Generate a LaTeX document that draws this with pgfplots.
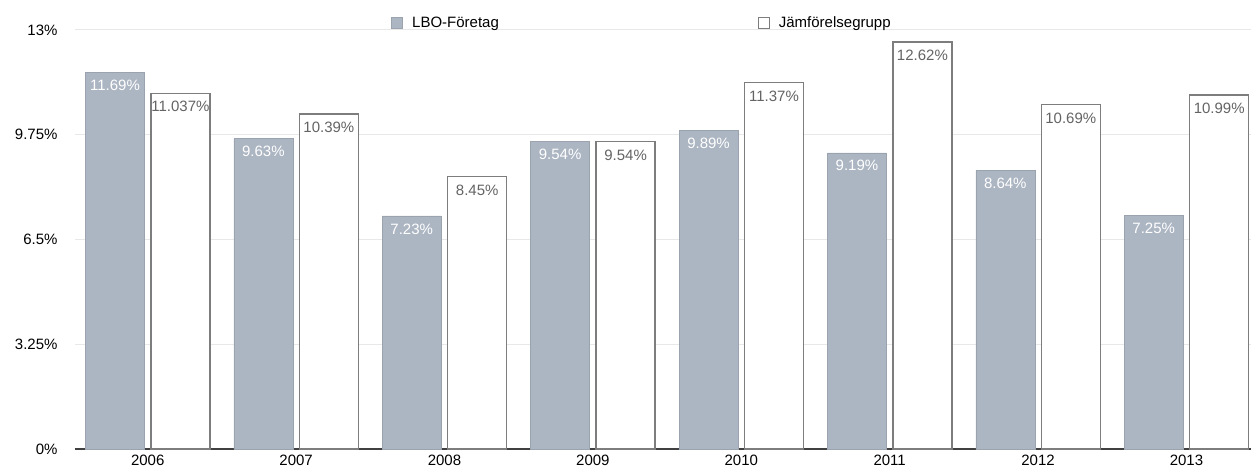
\documentclass[border=0pt]{standalone}
\usepackage{fontspec}
\setmainfont{Liberation Sans}
\usepackage{pgfplots}
\pgfplotsset{compat=1.18}
\usepackage{pgfplotstable}
\definecolor{lbo}{RGB}{172,181,194}
\definecolor{gridc}{RGB}{232,232,232}
\definecolor{edgec}{RGB}{125,125,125}
\definecolor{lbltxt}{RGB}{100,100,100}
\pgfplotstableread{
x lbo jf
0 11.69 11.037
1 9.63 10.39
2 7.23 8.45
3 9.54 9.54
4 9.89 11.37
5 9.19 12.62
6 8.64 10.69
7 7.25 10.99
}\data
\begin{document}
\begin{tikzpicture}[font=\fontsize{15}{17}\selectfont]
\begin{axis}[
  scale only axis, width=1176pt, height=419pt,
  xmin=-0.49, xmax=7.435, ymin=0, ymax=13,
  ybar=6.5pt, bar width=59pt,
  axis x line*=bottom, axis y line*=left,
  x axis line style={-, draw=black!75, line width=1.8pt},
  y axis line style={draw=none},
  ymajorgrids, grid style={gridc, line width=1pt},
  ytick={0,3.25,6.5,9.75,13},
  yticklabels={0\%,3.25\%,6.5\%,9.75\%,13\%},
  xtick={0,...,7},
  xticklabels={2006,2007,2008,2009,2010,2011,2012,2013},
  major tick length=0pt,
  y tick label style={anchor=east, xshift=-14pt},
  x tick label style={yshift=-2pt},
  point meta=explicit symbolic,
  nodes near coords={\pgfplotspointmeta\%},
  every node near coord/.append style={anchor=north, yshift=-4pt, font=\fontsize{15}{17}\selectfont},
  legend image code/.code={\draw[#1, line width=1pt] (0pt,-5.5pt) rectangle (11pt,5.5pt);},
  legend style={at={(axis description cs:0.2687,1.016)}, anchor=west, draw=none, fill=none,
    legend columns=2,
    /tikz/every odd column/.append style={column sep=7pt},
    /tikz/every even column/.append style={column sep=257pt},
    font=\fontsize{15}{17}\selectfont, inner sep=0pt},
]
\coordinate (o) at (rel axis cs:0,0);
\addplot[fill=lbo, draw=lbo!90!black, line width=0.5pt, every node near coord/.append style={text=white}] table[x=x, y=lbo, meta=lbo] {\data};
\addplot[fill=white, draw=edgec, line width=1.5pt, every node near coord/.append style={text=lbltxt}] table[x=x, y=jf, meta=jf] {\data};
\legend{LBO-Företag, Jämförelsegrupp}
\end{axis}
\pgfresetboundingbox
\path (o) ++(-75pt,-23pt) rectangle ++(1251pt,472pt);
\end{tikzpicture}
\end{document}
